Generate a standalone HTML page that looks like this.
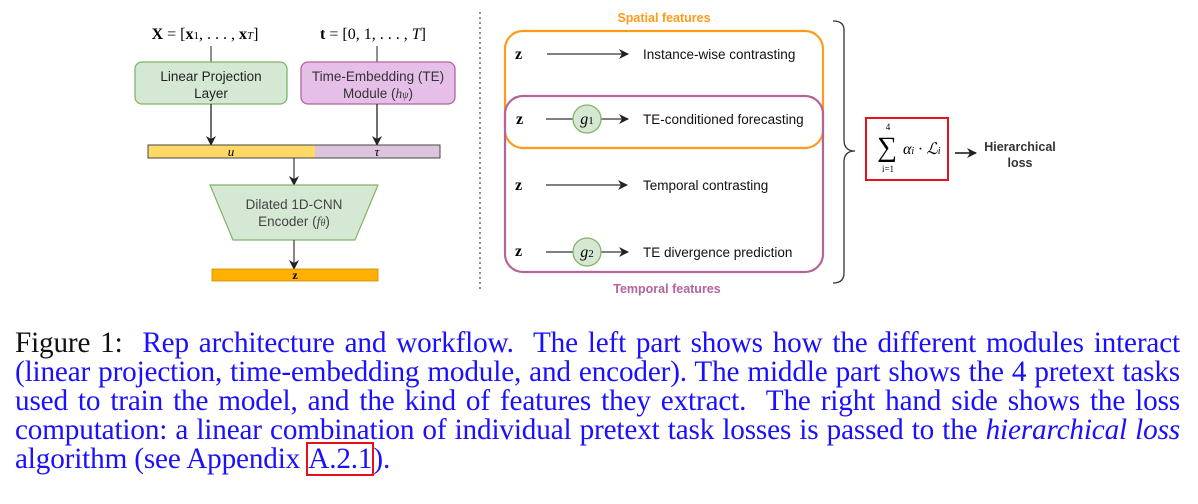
<!DOCTYPE html>
<html><head><meta charset="utf-8"><style>
body{margin:0;width:1198px;height:504px;background:#fff;overflow:hidden;position:relative;font-family:"Liberation Sans",sans-serif}
.cap{position:absolute;left:15px;width:1165px;font-family:"Liberation Serif",serif;font-size:29.2px;color:#1a0fff;line-height:29px}
.ln{text-align:justify;text-align-last:justify;white-space:nowrap;height:29px;letter-spacing:-0.15px}
.last{text-align-last:left}
</style></head><body>
<svg width="1198" height="310" style="position:absolute;left:0;top:0" font-family="Liberation Sans, sans-serif">
<defs><marker id="a" markerWidth="10" markerHeight="10" refX="9" refY="5" orient="auto" markerUnits="userSpaceOnUse"><path d="M0,0 L10,5 L0,10 L3,5z" fill="#222"/></marker></defs>
<text x="205" y="39" font-family="Liberation Serif,serif" font-size="16" text-anchor="middle"><tspan font-weight="bold">X</tspan> = [<tspan font-weight="bold">x</tspan><tspan font-size="11">1</tspan>, . . . , <tspan font-weight="bold">x</tspan><tspan font-size="11" font-style="italic">T</tspan>]</text>
<text x="373" y="39" font-family="Liberation Serif,serif" font-size="16" text-anchor="middle"><tspan font-weight="bold">t</tspan> = [0, 1, . . . , <tspan font-style="italic">T</tspan>]</text>
<line x1="211" y1="46" x2="211" y2="62" stroke="#222"/>
<line x1="377" y1="46" x2="377" y2="62" stroke="#222"/>
<rect x="135" y="62" width="152" height="42" rx="7" fill="#d5e8d4" stroke="#82b366" stroke-width="1.3"/>
<text x="211" y="81" font-size="13.5" text-anchor="middle" fill="#222">Linear Projection</text>
<text x="211" y="98" font-size="13.5" text-anchor="middle" fill="#222">Layer</text>
<rect x="301" y="62" width="154" height="42" rx="7" fill="#e6bfe9" stroke="#b5639b" stroke-width="1.3"/>
<text x="378" y="81" font-size="13.5" text-anchor="middle" fill="#333">Time-Embedding (TE)</text>
<text x="378" y="98" font-size="13.5" text-anchor="middle" fill="#333">Module (<tspan font-family="Liberation Serif,serif" font-style="italic">h<tspan font-size="10">ψ</tspan></tspan>)</text>
<line x1="211" y1="104" x2="211" y2="145" stroke="#222" stroke-width="1.3" marker-end="url(#a)"/>
<line x1="377" y1="104" x2="377" y2="145" stroke="#222" stroke-width="1.3" marker-end="url(#a)"/>
<rect x="148" y="145" width="167" height="13" fill="#ffd966"/>
<rect x="315" y="145" width="125" height="13" fill="#dcc4dd"/>
<rect x="148" y="145" width="292" height="13" fill="none" stroke="#444" stroke-width="1"/>
<text x="231" y="156" font-family="Liberation Serif,serif" font-style="italic" font-size="13" text-anchor="middle">u</text>
<text x="377" y="156" font-family="Liberation Serif,serif" font-style="italic" font-size="13" text-anchor="middle">τ</text>
<line x1="294" y1="158" x2="294" y2="185" stroke="#444" stroke-width="1.3" marker-end="url(#a)"/>
<polygon points="210,185 378,185 355,240 233,240" fill="#d5e8d4" stroke="#82b366" stroke-width="1.2"/>
<text x="294" y="209" font-size="13.5" text-anchor="middle" fill="#444">Dilated 1D-CNN</text>
<text x="294" y="226" font-size="13.5" text-anchor="middle" fill="#444">Encoder (<tspan font-family="Liberation Serif,serif" font-style="italic">f<tspan font-size="10">θ</tspan></tspan>)</text>
<line x1="294" y1="240" x2="294" y2="269" stroke="#444" stroke-width="1.3" marker-end="url(#a)"/>
<rect x="212" y="269" width="166" height="12" fill="#ffb000" stroke="#c98a00" stroke-width="0.8"/>
<text x="295" y="279" font-family="Liberation Serif,serif" font-weight="bold" font-size="12" text-anchor="middle">z</text>
<line x1="480" y1="12" x2="480" y2="290" stroke="#222" stroke-dasharray="2,3"/>
<text x="664" y="22" font-size="12.5" font-weight="bold" fill="#ff9a1a" text-anchor="middle">Spatial features</text>
<rect x="505" y="31" width="318" height="117" rx="18" fill="none" stroke="#ff9a1a" stroke-width="2.2"/>
<rect x="505" y="96" width="318" height="176" rx="18" fill="none" stroke="#b5639b" stroke-width="2.2"/>
<text x="667" y="293" font-size="12.5" font-weight="bold" fill="#b5639b" text-anchor="middle">Temporal features</text>
<g font-family="Liberation Serif,serif" font-weight="bold" font-size="16">
<text x="515" y="59">z</text><text x="516" y="124">z</text><text x="515" y="190">z</text><text x="515" y="256">z</text></g>
<line x1="547" y1="54" x2="628" y2="54" stroke="#333" stroke-width="1.3" marker-end="url(#a)"/>
<line x1="546" y1="119" x2="628" y2="119" stroke="#333" stroke-width="1.3" marker-end="url(#a)"/>
<line x1="546" y1="185" x2="627" y2="185" stroke="#333" stroke-width="1.3" marker-end="url(#a)"/>
<line x1="546" y1="252" x2="628" y2="252" stroke="#333" stroke-width="1.3" marker-end="url(#a)"/>
<circle cx="587" cy="119" r="14" fill="#d5e8d4" stroke="#82b366" stroke-width="1.3"/>
<circle cx="587" cy="252" r="14" fill="#d5e8d4" stroke="#82b366" stroke-width="1.3"/>
<text x="587" y="124" font-family="Liberation Serif,serif" font-style="italic" font-size="16" text-anchor="middle">g<tspan font-size="11" font-style="normal">1</tspan></text>
<text x="587" y="257" font-family="Liberation Serif,serif" font-style="italic" font-size="16" text-anchor="middle">g<tspan font-size="11" font-style="normal">2</tspan></text>
<g font-size="13.5" fill="#111">
<text x="643" y="59">Instance-wise contrasting</text>
<text x="643" y="124">TE-conditioned forecasting</text>
<text x="643" y="190">Temporal contrasting</text>
<text x="643" y="257">TE divergence prediction</text></g>
<path d="M833,21 Q844,21 844,30 L844,140 Q844,151 855,151 Q844,151 844,162 L844,273 Q844,283 833,283" fill="none" stroke="#333" stroke-width="1.3"/>
<rect x="866" y="118" width="82" height="62" fill="none" stroke="#e8101c" stroke-width="2"/>
<text x="887" y="156" font-family="Liberation Serif,serif" font-size="28" text-anchor="middle">∑</text>
<text x="888" y="130" font-family="Liberation Serif,serif" font-size="9" text-anchor="middle">4</text>
<text x="888" y="172" font-family="Liberation Serif,serif" font-size="9" text-anchor="middle">i=1</text>
<text x="903" y="154" font-family="Liberation Serif,serif" font-style="italic" font-size="16">α<tspan font-size="10">i</tspan> · ℒ<tspan font-size="10">i</tspan></text>
<line x1="955" y1="153" x2="976" y2="153" stroke="#111" stroke-width="1.6" marker-end="url(#a)"/>
<text x="1020" y="151" font-size="12.5" font-weight="bold" fill="#333" text-anchor="middle">Hierarchical</text>
<text x="1020" y="167" font-size="12.5" font-weight="bold" fill="#333" text-anchor="middle">loss</text>
</svg>
<div class="cap" style="top:329px">
<div class="ln"><span style="color:#111">Figure 1:</span>&nbsp; Rep architecture and workflow.&nbsp; The left part shows how the different modules interact</div>
<div class="ln">(linear projection, time-embedding module, and encoder). The middle part shows the 4 pretext tasks</div>
<div class="ln">used to train the model, and the kind of features they extract.&nbsp; The right hand side shows the loss</div>
<div class="ln">computation: a linear combination of individual pretext task losses is passed to the <i>hierarchical loss</i></div>
<div class="ln last">algorithm (see Appendix <span style="outline:2px solid #e8101c;outline-offset:-1px;padding:0 1px">A.2.1</span>).</div>
</div>
</body></html>
